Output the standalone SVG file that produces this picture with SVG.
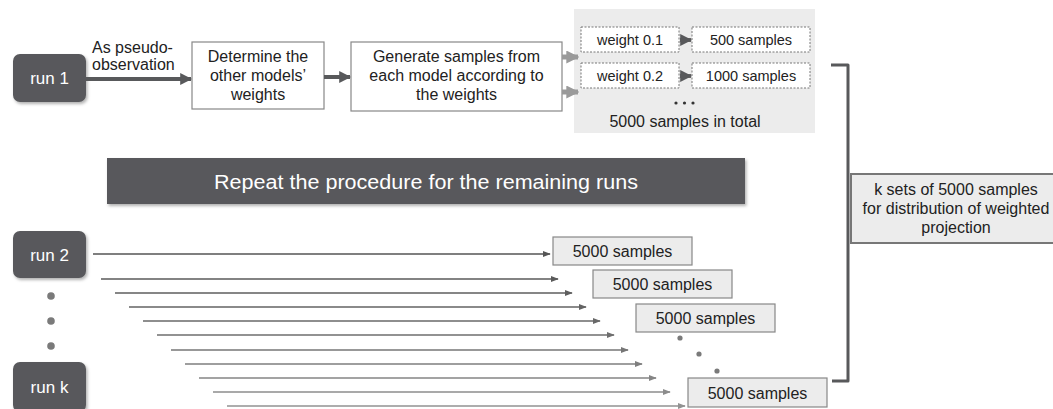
<svg xmlns="http://www.w3.org/2000/svg" width="1053" height="409" viewBox="0 0 1053 409">
  <defs>
    <marker id="headDark" viewBox="0 0 10 10" refX="9" refY="5" markerWidth="3" markerHeight="3" markerUnits="strokeWidth" orient="auto">
      <path d="M0,0 L10,5 L0,10 Z" fill="#58595b"/>
    </marker>
    <marker id="headLight" viewBox="0 0 10 10" refX="9" refY="5" markerWidth="2.6" markerHeight="2.6" markerUnits="strokeWidth" orient="auto">
      <path d="M0,0 L10,5 L0,10 Z" fill="#9a9a9a"/>
    </marker>
    <marker id="headThin" viewBox="0 0 10 10" refX="9" refY="5" markerWidth="8" markerHeight="6" markerUnits="userSpaceOnUse" orient="auto" preserveAspectRatio="none">
      <path d="M0,0 L10,5 L0,10 Z" fill="context-stroke"/>
    </marker>
    <filter id="shadow" x="-10%" y="-10%" width="130%" height="140%">
      <feDropShadow dx="1.5" dy="2" stdDeviation="1.5" flood-color="#000" flood-opacity="0.3"/>
    </filter>
  </defs>
  <style>
    text { font-family: "Liberation Sans", Arial, sans-serif; fill: #222; }
    .run { fill: #58595b; filter: url(#shadow); }
    .runText { fill: #fff; font-size: 17px; text-anchor: middle; }
    .step { fill: #fff; stroke: #888; stroke-width: 1.2; }
    .stepText { font-size: 16px; text-anchor: middle; }
    .dash { fill: #fff; stroke: #777; stroke-width: 1; stroke-dasharray: 2 1.5; }
    .small { font-size: 14.5px; text-anchor: middle; }
    .sample { fill: #ececec; stroke: #888; stroke-width: 1.2; }
    .sampleText { font-size: 16px; text-anchor: middle; }
    .thin { stroke-width: 1.3; fill: none; marker-end: url(#headThin); }
    .dot { fill: #7a7a7a; }
  </style>

  <!-- run nodes -->
  <g id="run1">
    <rect class="run" x="13" y="54" width="73" height="48" rx="7"/>
    <text class="runText" x="49.5" y="84">run 1</text>
  </g>
  <g id="run2">
    <rect class="run" x="13" y="231" width="73" height="47" rx="7"/>
    <text class="runText" x="49.5" y="261">run 2</text>
  </g>
  <g id="runk">
    <rect class="run" x="13" y="362" width="73" height="50" rx="7"/>
    <text class="runText" x="49.5" y="393">run k</text>
  </g>
  <g id="run-dots">
    <circle class="dot" cx="51" cy="296" r="3.8"/>
    <circle class="dot" cx="51" cy="321" r="3.8"/>
    <circle class="dot" cx="51" cy="346" r="3.8"/>
  </g>

  <!-- step boxes -->
  <g id="determine-weights">
    <rect class="step" x="192" y="42" width="132" height="67"/>
    <text class="stepText" x="258" y="62">Determine the</text>
    <text class="stepText" x="258" y="81">other models’</text>
    <text class="stepText" x="258" y="100">weights</text>
  </g>
  <g id="generate-samples">
    <rect class="step" x="351" y="42" width="211" height="69"/>
    <text class="stepText" x="456.5" y="62">Generate samples from</text>
    <text class="stepText" x="456.5" y="81">each model according to</text>
    <text class="stepText" x="456.5" y="100">the weights</text>
  </g>

  <!-- sampling panel -->
  <g id="sampling-panel">
    <rect x="574" y="9" width="241" height="124" fill="#ececec"/>
    <rect class="dash" x="581" y="27" width="98" height="25"/>
    <text class="small" x="630" y="45">weight 0.1</text>
    <rect class="dash" x="692" y="27" width="118" height="25"/>
    <text class="small" x="751" y="45">500 samples</text>
    <rect class="dash" x="581" y="63" width="98" height="25"/>
    <text class="small" x="630" y="81">weight 0.2</text>
    <rect class="dash" x="692" y="63" width="118" height="25"/>
    <text class="small" x="751" y="81">1000 samples</text>
    <circle cx="676" cy="103" r="1.6" fill="#333"/>
    <circle cx="684.5" cy="103" r="1.6" fill="#333"/>
    <circle cx="693" cy="103" r="1.6" fill="#333"/>
    <text x="685" y="127" font-size="16" text-anchor="middle">5000 samples in total</text>
  </g>

  <!-- label above first connector -->
  <g id="pseudo-label">
    <text x="92" y="53" font-size="16">As pseudo-</text>
    <text x="92" y="70" font-size="16">observation</text>
  </g>

  <!-- banner -->
  <g id="repeat-banner">
    <rect x="107" y="158" width="638" height="46" fill="#58595b" filter="url(#shadow)"/>
    <text x="426" y="189" font-size="20" text-anchor="middle" style="fill:#fff" textLength="424" lengthAdjust="spacingAndGlyphs">Repeat the procedure for the remaining runs</text>
  </g>

  <!-- per-run sample sets -->
  <g id="sample-sets">
    <rect class="sample" x="553" y="237" width="139" height="28"/>
    <text class="sampleText" x="622.5" y="257">5000 samples</text>
    <rect class="sample" x="593" y="270" width="139" height="28"/>
    <text class="sampleText" x="662.5" y="290">5000 samples</text>
    <rect class="sample" x="636" y="304" width="139" height="28"/>
    <text class="sampleText" x="705.5" y="324">5000 samples</text>
    <circle class="dot" cx="680" cy="338" r="2.6"/>
    <circle class="dot" cx="699" cy="354" r="2.6"/>
    <circle class="dot" cx="717" cy="371" r="2.6"/>
    <rect class="sample" x="688" y="378" width="139" height="29"/>
    <text class="sampleText" x="757.5" y="399">5000 samples</text>
  </g>

  <!-- summary -->
  <g id="summary">
    <rect x="851" y="174" width="205" height="69" fill="#ececec" stroke="#777" stroke-width="2"/>
    <text class="stepText" x="956" y="195">k sets of 5000 samples</text>
    <text class="stepText" x="956" y="214">for distribution of weighted</text>
    <text class="stepText" x="956" y="233">projection</text>
  </g>

  <!-- connectors -->
  <g id="connectors">
    <line x1="86" y1="79" x2="191" y2="79" stroke="#58595b" stroke-width="4" marker-end="url(#headDark)"/>
    <line x1="324" y1="77" x2="350" y2="77" stroke="#58595b" stroke-width="4" marker-end="url(#headDark)"/>
    <line x1="562" y1="57" x2="578" y2="57" stroke="#9a9a9a" stroke-width="5" marker-end="url(#headLight)"/>
    <line x1="562" y1="92" x2="578" y2="92" stroke="#9a9a9a" stroke-width="5" marker-end="url(#headLight)"/>
    <line x1="680" y1="40" x2="691" y2="40" stroke="#666" stroke-width="4" marker-end="url(#headDark)"/>
    <line x1="680" y1="76" x2="691" y2="76" stroke="#666" stroke-width="4" marker-end="url(#headDark)"/>

    <line class="thin" x1="93" y1="254" x2="550" y2="254" stroke="#555"/>
    <line class="thin" x1="101" y1="279" x2="558" y2="279" stroke="#5a5a5a"/>
    <line class="thin" x1="115" y1="293" x2="572" y2="293" stroke="#5e5e5e"/>
    <line class="thin" x1="129" y1="307" x2="586" y2="307" stroke="#636363"/>
    <line class="thin" x1="143" y1="321" x2="600" y2="321" stroke="#686868"/>
    <line class="thin" x1="157" y1="335" x2="614" y2="335" stroke="#6e6e6e"/>
    <line class="thin" x1="171" y1="350" x2="628" y2="350" stroke="#767676"/>
    <line class="thin" x1="185" y1="364" x2="642" y2="364" stroke="#7e7e7e"/>
    <line class="thin" x1="199" y1="378" x2="656" y2="378" stroke="#858585"/>
    <line class="thin" x1="213" y1="392" x2="670" y2="392" stroke="#8c8c8c"/>
    <line class="thin" x1="227" y1="406" x2="685" y2="406" stroke="#929292"/>

    <path d="M831 65 H848 V381 H832" fill="none" stroke="#58595b" stroke-width="3" stroke-linejoin="round"/>
  </g>
</svg>
